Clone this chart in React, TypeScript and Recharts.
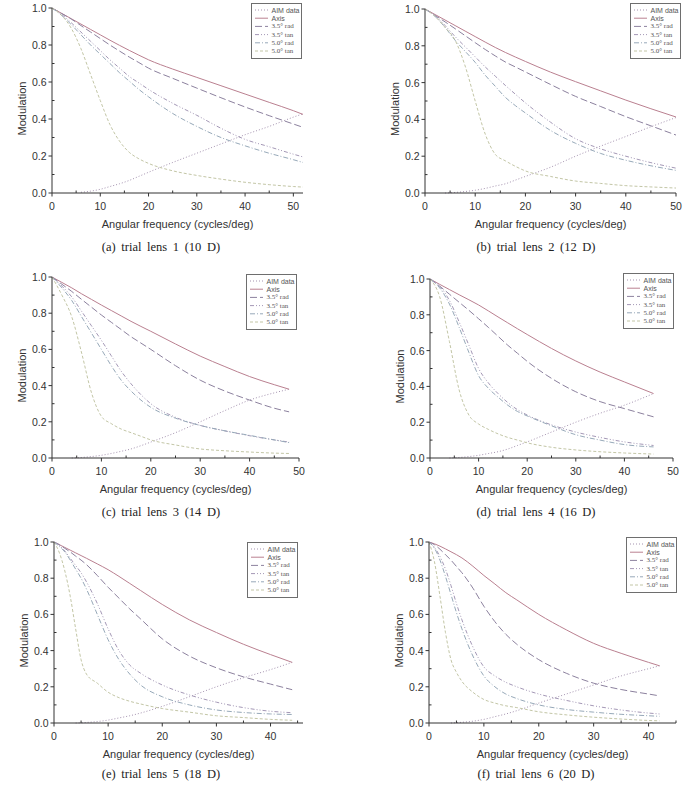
import { LineChart, Line, XAxis, YAxis } from "recharts";

// ── MTF curves for six trial lenses ──
// modulation vs. angular frequency (cycles/deg), on-axis and off-axis fields

const CAPTIONS = [
  "(a) trial lens 1 (10 D)",
  "(b) trial lens 2 (12 D)",
  "(c) trial lens 3 (14 D)",
  "(d) trial lens 4 (16 D)",
  "(e) trial lens 5 (18 D)",
  "(f) trial lens 6 (20 D)",
];

const MODULATION_TICKS = [0, 0.1, 0.2, 0.3, 0.4, 0.5, 0.6, 0.7, 0.8, 0.9, 1.0];

// lens 1
const freqA = [0, 2, 4, 6, 8, 10, 12, 14, 16, 18, 20, 25, 30, 35, 40, 45, 50, 52];
const aimA = [null, null, null, 0.004, 0.01, 0.02, 0.035, 0.05, 0.068, 0.09, 0.112, 0.165, 0.215, 0.265, 0.315, 0.36, 0.41, 0.428];
const axisA = [1.0, 0.971, 0.942, 0.913, 0.884, 0.855, 0.826, 0.798, 0.771, 0.745, 0.72, 0.67, 0.625, 0.58, 0.535, 0.49, 0.445, 0.425];
const rad35A = [1.0, 0.97, 0.94, 0.905, 0.87, 0.835, 0.8, 0.767, 0.735, 0.705, 0.675, 0.62, 0.567, 0.515, 0.465, 0.418, 0.373, 0.355];
const tan35A = [1.0, 0.965, 0.92, 0.87, 0.82, 0.77, 0.72, 0.675, 0.63, 0.595, 0.56, 0.485, 0.42, 0.35, 0.29, 0.25, 0.21, 0.195];
const rad50A = [1.0, 0.96, 0.91, 0.855, 0.8, 0.75, 0.7, 0.65, 0.605, 0.56, 0.52, 0.43, 0.36, 0.3, 0.255, 0.215, 0.18, 0.165];
const tan50A = [1.0, 0.96, 0.89, 0.78, 0.64, 0.5, 0.37, 0.28, 0.22, 0.185, 0.16, 0.12, 0.095, 0.075, 0.058, 0.045, 0.035, 0.032];

// lens 2
const freqB = [0, 2, 4, 6, 8, 10, 12, 14, 16, 18, 20, 25, 30, 35, 40, 45, 50];
const aimB = [null, null, 0.0, 0.003, 0.008, 0.015, 0.025, 0.038, 0.05, 0.07, 0.09, 0.14, 0.2, 0.255, 0.307, 0.36, 0.41];
const axisB = [1.0, 0.97, 0.94, 0.91, 0.88, 0.85, 0.82, 0.791, 0.764, 0.739, 0.715, 0.657, 0.605, 0.555, 0.505, 0.458, 0.413];
const rad35B = [1.0, 0.965, 0.93, 0.893, 0.855, 0.817, 0.78, 0.745, 0.712, 0.685, 0.658, 0.59, 0.525, 0.47, 0.415, 0.365, 0.315];
const tan35B = [1.0, 0.965, 0.91, 0.85, 0.795, 0.74, 0.685, 0.635, 0.585, 0.537, 0.49, 0.385, 0.295, 0.24, 0.2, 0.165, 0.135];
const rad50B = [1.0, 0.96, 0.9, 0.83, 0.77, 0.71, 0.64, 0.58, 0.52, 0.475, 0.435, 0.34, 0.27, 0.215, 0.178, 0.148, 0.123];
const tan50B = [1.0, 0.96, 0.9, 0.83, 0.69, 0.5, 0.32, 0.21, 0.175, 0.145, 0.12, 0.09, 0.065, 0.052, 0.04, 0.033, 0.027];

// lens 3
const freqC = [0, 2, 4, 6, 8, 10, 12, 14, 16, 18, 20, 25, 30, 35, 40, 45, 48];
const aimC = [null, null, 0.0, 0.003, 0.008, 0.015, 0.025, 0.037, 0.05, 0.068, 0.088, 0.14, 0.2, 0.262, 0.32, 0.36, 0.38];
const axisC = [1.0, 0.97, 0.94, 0.907, 0.876, 0.845, 0.815, 0.785, 0.755, 0.727, 0.7, 0.63, 0.563, 0.505, 0.45, 0.405, 0.38];
const rad35C = [1.0, 0.96, 0.92, 0.876, 0.833, 0.79, 0.75, 0.71, 0.67, 0.635, 0.6, 0.51, 0.43, 0.37, 0.32, 0.275, 0.255];
const tan35C = [1.0, 0.95, 0.89, 0.81, 0.73, 0.65, 0.565, 0.48, 0.41, 0.35, 0.3, 0.225, 0.18, 0.15, 0.123, 0.1, 0.088];
const rad50C = [1.0, 0.94, 0.87, 0.78, 0.69, 0.6, 0.51, 0.43, 0.37, 0.32, 0.28, 0.22, 0.18, 0.15, 0.125, 0.1, 0.085];
const tan50C = [1.0, 0.9, 0.78, 0.58, 0.36, 0.23, 0.19, 0.16, 0.14, 0.12, 0.1, 0.072, 0.05, 0.04, 0.033, 0.027, 0.025];

// lens 4
const freqD = [0, 2, 4, 6, 8, 10, 12, 14, 16, 18, 20, 25, 30, 35, 40, 46];
const aimD = [null, null, 0.0, 0.003, 0.008, 0.015, 0.025, 0.035, 0.05, 0.07, 0.09, 0.145, 0.2, 0.25, 0.295, 0.36];
const axisD = [1.0, 0.97, 0.941, 0.912, 0.884, 0.855, 0.822, 0.788, 0.755, 0.722, 0.69, 0.612, 0.542, 0.48, 0.425, 0.36];
const rad35D = [1.0, 0.96, 0.915, 0.87, 0.825, 0.778, 0.73, 0.68, 0.63, 0.585, 0.54, 0.445, 0.37, 0.315, 0.276, 0.23];
const tan35D = [1.0, 0.96, 0.88, 0.76, 0.63, 0.5, 0.42, 0.36, 0.31, 0.27, 0.24, 0.185, 0.145, 0.115, 0.09, 0.07];
const rad50D = [1.0, 0.95, 0.86, 0.73, 0.59, 0.46, 0.39, 0.34, 0.295, 0.26, 0.235, 0.18, 0.13, 0.1, 0.075, 0.062];
const tan50D = [1.0, 0.9, 0.65, 0.38, 0.24, 0.19, 0.16, 0.135, 0.115, 0.1, 0.085, 0.06, 0.045, 0.035, 0.028, 0.022];

// lens 5
const freqE = [0, 1, 2, 3, 4, 5, 6, 8, 10, 12, 14, 16, 20, 25, 30, 35, 40, 44];
const aimE = [null, null, null, null, 0.0, 0.001, 0.003, 0.008, 0.016, 0.028, 0.04, 0.055, 0.092, 0.145, 0.2, 0.25, 0.295, 0.335];
const axisE = [1.0, 0.985, 0.97, 0.955, 0.94, 0.925, 0.91, 0.879, 0.847, 0.81, 0.771, 0.732, 0.655, 0.57, 0.5, 0.435, 0.378, 0.335];
const rad35E = [1.0, 0.985, 0.965, 0.945, 0.922, 0.9, 0.875, 0.815, 0.75, 0.69, 0.63, 0.575, 0.465, 0.37, 0.305, 0.255, 0.215, 0.184];
const tan35E = [1.0, 0.98, 0.95, 0.91, 0.87, 0.83, 0.78, 0.66, 0.52, 0.4, 0.32, 0.275, 0.21, 0.155, 0.115, 0.085, 0.065, 0.057];
const rad50E = [1.0, 0.975, 0.945, 0.9, 0.85, 0.8, 0.74, 0.6, 0.46, 0.35, 0.27, 0.21, 0.145, 0.1, 0.072, 0.058, 0.05, 0.047];
const tan50E = [1.0, 0.94, 0.84, 0.7, 0.52, 0.35, 0.27, 0.22, 0.17, 0.14, 0.12, 0.105, 0.08, 0.06, 0.04, 0.03, 0.02, 0.015];

// lens 6
const freqF = [0, 1, 2, 3, 4, 5, 6, 8, 10, 12, 14, 16, 20, 25, 30, 35, 40, 42];
const aimF = [null, null, null, null, 0.0, 0.002, 0.004, 0.01, 0.02, 0.035, 0.05, 0.068, 0.11, 0.16, 0.21, 0.26, 0.3, 0.316];
const axisF = [1.0, 0.99, 0.977, 0.962, 0.946, 0.93, 0.912, 0.866, 0.815, 0.768, 0.72, 0.68, 0.6, 0.515, 0.44, 0.385, 0.335, 0.316];
const rad35F = [1.0, 0.985, 0.96, 0.93, 0.9, 0.865, 0.83, 0.745, 0.645, 0.56, 0.49, 0.435, 0.35, 0.275, 0.22, 0.185, 0.16, 0.15];
const tan35F = [1.0, 0.97, 0.92, 0.85, 0.76, 0.66, 0.57, 0.42, 0.31, 0.26, 0.225, 0.2, 0.16, 0.125, 0.095, 0.072, 0.055, 0.05];
const rad50F = [1.0, 0.965, 0.9, 0.81, 0.71, 0.61, 0.52, 0.37, 0.26, 0.2, 0.16, 0.135, 0.1, 0.075, 0.06, 0.048, 0.04, 0.037];
const tan50F = [1.0, 0.89, 0.7, 0.5, 0.35, 0.28, 0.23, 0.17, 0.13, 0.11, 0.095, 0.085, 0.062, 0.045, 0.032, 0.022, 0.014, 0.012];

const SANS = '"Liberation Sans", Arial, sans-serif';
const SERIF = '"Liberation Serif", "Times New Roman", serif';
const INK = "#333";

const SERIES = [
  { key: "aim", label: "AIM data", color: "#a593b0", dash: "1 2", font: SANS },
  { key: "axis", label: "Axis", color: "#ba8090", dash: undefined, font: SANS },
  { key: "rad35", label: "3.5° rad", color: "#8c819e", dash: "7 3", font: SERIF },
  { key: "tan35", label: "3.5° tan", color: "#a498b6", dash: "4 2 1 2 1 2", font: SERIF },
  { key: "rad50", label: "5.0° rad", color: "#97a9b9", dash: "5 2 1 2", font: SERIF },
  { key: "tan50", label: "5.0° tan", color: "#c3c6a6", dash: "3 2", font: SERIF },
];

// plot box (page px) + legend corner + caption centre for each panel
const PANELS = [
  { freq: freqA, aim: aimA, axis: axisA, rad35: rad35A, tan35: tan35A, rad50: rad50A, tan50: tan50A, xMax: 52, plot: [52, 8, 303, 193], legend: [251, 3], cap: [161, 247] },
  { freq: freqB, aim: aimB, axis: axisB, rad35: rad35B, tan35: tan35B, rad50: rad50B, tan50: tan50B, xMax: 50, plot: [425, 9, 676, 193], legend: [630, 3], cap: [536, 247] },
  { freq: freqC, aim: aimC, axis: axisC, rad35: rad35C, tan35: tan35C, rad50: rad50C, tan50: tan50C, xMax: 50, plot: [52, 277, 299, 458], legend: [246, 274], cap: [161, 512] },
  { freq: freqD, aim: aimD, axis: axisD, rad35: rad35D, tan35: tan35D, rad50: rad50D, tan50: tan50D, xMax: 50, plot: [430, 279, 673, 458], legend: [623, 273], cap: [536, 512] },
  { freq: freqE, aim: aimE, axis: axisE, rad35: rad35E, tan35: tan35E, rad50: rad50E, tan50: tan50E, xMax: 46, plot: [54, 542, 303, 723], legend: [247, 542], cap: [161, 774] },
  { freq: freqF, aim: aimF, axis: axisF, rad35: rad35F, tan35: tan35F, rad50: rad50F, tan50: tan50F, xMax: 45, plot: [429, 542, 676, 723], legend: [626, 537], cap: [536, 774] },
];

const Y_AXIS_W = 52;
const X_AXIS_H = 45;
const PAD_TOP = 8;
const PAD_RIGHT = 10;
const LEGEND_W = 51;
const LEGEND_H = 56;

function FreqTick({ x, y, payload }: any) {
  const v = payload.value;
  if (v % 10 !== 0) {
    return <line x1={x} y1={y} x2={x} y2={y - 2.5} stroke={INK} />;
  }
  return (
    <g>
      <line x1={x} y1={y} x2={x} y2={y + 3.5} stroke={INK} />
      <text x={x} y={y + 12.5} textAnchor="middle" dominantBaseline="central" fontSize={10.5} fontFamily={SANS} fill={INK}>
        {v}
      </text>
    </g>
  );
}

function ModTick({ x, y, payload }: any) {
  const v = payload.value;
  if (Math.round(v * 10) % 2 !== 0) {
    return <line x1={x} y1={y} x2={x + 2.5} y2={y} stroke={INK} />;
  }
  return (
    <g>
      <line x1={x - 3.5} y1={y} x2={x} y2={y} stroke={INK} />
      <text x={x - 5.5} y={y} textAnchor="end" dominantBaseline="central" fontSize={10.5} fontFamily={SANS} fill={INK}>
        {v.toFixed(1)}
      </text>
    </g>
  );
}

// framed legend box sitting over the plot's top-right corner
function LegendBox({ left, top }: { left: number; top: number }) {
  return (
    <svg width={LEGEND_W} height={LEGEND_H} style={{ position: "absolute", left, top, display: "block" }}>
      <rect x={0.5} y={0.5} width={LEGEND_W - 1} height={LEGEND_H - 1} fill="#fff" stroke="#6e6e6e" strokeWidth={1} />
      {SERIES.map((s, i) => {
        const cy = 7 + i * 8.2;
        return (
          <g key={s.key}>
            <line x1={4} y1={cy} x2={17} y2={cy} stroke={s.color} strokeDasharray={s.dash} />
            <text x={20.5} y={cy} dominantBaseline="central" fontSize={7} fontFamily={s.font} fill="#555">
              {s.label}
            </text>
          </g>
        );
      })}
    </svg>
  );
}

function MtfPanel({ panel, caption }: { panel: any; caption: string }) {
  const [pl, pt, pr, pb] = panel.plot;
  const left = pl - Y_AXIS_W;
  const top = pt - PAD_TOP;
  const width = pr - left + PAD_RIGHT;
  const height = pb - top + X_AXIS_H;

  const rows = panel.freq.map((f: number, i: number) => ({
    f,
    aim: panel.aim[i],
    axis: panel.axis[i],
    rad35: panel.rad35[i],
    tan35: panel.tan35[i],
    rad50: panel.rad50[i],
    tan50: panel.tan50[i],
  }));

  const freqTicks: number[] = [];
  for (let t = 0; t <= panel.xMax; t += 5) freqTicks.push(t);

  return (
    <>
      <div style={{ position: "absolute", left, top }}>
        <LineChart width={width} height={height} data={rows} margin={{ top: PAD_TOP, right: PAD_RIGHT, left: 0, bottom: 0 }}>
          <XAxis
            type="number"
            dataKey="f"
            domain={[0, panel.xMax]}
            ticks={freqTicks}
            interval={0}
            tickSize={0}
            tickMargin={0}
            tickLine={false}
            tick={<FreqTick />}
            axisLine={{ stroke: INK }}
            height={X_AXIS_H}
            label={(p: any) => {
              const vb = p.viewBox;
              return (
                <text x={vb.x + vb.width / 2} y={vb.y + 31} textAnchor="middle" dominantBaseline="central" fontSize={11} fontFamily={SANS} fill={INK}>
                  Angular frequency (cycles/deg)
                </text>
              );
            }}
          />
          <YAxis
            type="number"
            domain={[0, 1]}
            ticks={MODULATION_TICKS}
            interval={0}
            tickSize={0}
            tickMargin={0}
            tickLine={false}
            tick={<ModTick />}
            axisLine={{ stroke: INK }}
            width={Y_AXIS_W}
            label={(p: any) => {
              const vb = p.viewBox;
              const cx = vb.x + vb.width - 30;
              const cy = vb.y + vb.height / 2 + 8;
              return (
                <text x={cx} y={cy} transform={`rotate(-90, ${cx}, ${cy})`} textAnchor="middle" dominantBaseline="central" fontSize={11} fontFamily={SANS} fill={INK}>
                  Modulation
                </text>
              );
            }}
          />
          {SERIES.map((s) => (
            <Line
              key={s.key}
              type="monotone"
              dataKey={s.key}
              name={s.label}
              stroke={s.color}
              strokeWidth={1}
              strokeDasharray={s.dash}
              dot={false}
              activeDot={false}
              isAnimationActive={false}
            />
          ))}
        </LineChart>
      </div>
      <LegendBox left={panel.legend[0]} top={panel.legend[1]} />
      <div
        style={{
          position: "absolute",
          left: panel.cap[0] - 100,
          top: panel.cap[1] - 8,
          width: 200,
          textAlign: "center",
          fontFamily: SERIF,
          fontSize: 12.5,
          wordSpacing: 2.5,
          lineHeight: "16px",
          color: "#222",
        }}
      >
        {caption}
      </div>
    </>
  );
}

export default function App() {
  return (
    <div style={{ position: "absolute", left: 0, top: 0, width: 689, height: 787, background: "#fff", overflow: "hidden" }}>
      {PANELS.map((p, i) => (
        <MtfPanel key={i} panel={p} caption={CAPTIONS[i]} />
      ))}
    </div>
  );
}
